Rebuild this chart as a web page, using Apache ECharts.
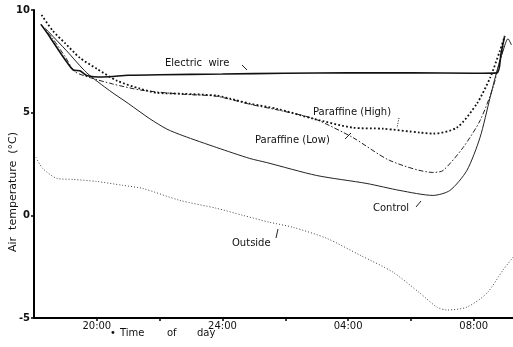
<!DOCTYPE html>
<html>
<head>
<meta charset="utf-8">
<script src="https://cdn.jsdelivr.net/npm/echarts@6/dist/echarts.min.js"></script>
<style>
html,body{margin:0;padding:0;background:#fff;}
#chart{width:513px;height:347px;}
</style>
</head>
<body>
<div id="chart"></div>
<script>
// x = hours on a continuous clock (24 = midnight, 32 = 08:00 next day)
var xTickLabels = {20: '20:00', 24: '24:00', 28: '04:00', 32: '08:00'};
var yTickLabels = {'-5': '-5', '0': '0', '5': '5', '10': '10'};

var electricWire = [
  [18.22, 9.3], [18.5, 8.7], [18.8, 8.0], [19.05, 7.45], [19.25, 7.08], [19.46, 7.04],
  [19.7, 6.8], [20.2, 6.74], [21.0, 6.82], [22.0, 6.85], [24.0, 6.88], [26.0, 6.92],
  [28.0, 6.94], [30.0, 6.94], [32.0, 6.92], [32.74, 6.94], [32.87, 7.9], [32.98, 8.7]
];
var paraffineHigh = [
  [18.24, 9.76], [18.6, 8.98], [18.98, 8.4], [19.46, 7.67], [20.0, 7.14], [20.65, 6.55],
  [21.37, 6.17], [21.91, 5.97], [22.74, 5.92], [23.82, 5.83], [24.24, 5.68], [24.87, 5.44],
  [25.73, 5.19], [26.88, 4.71], [28.15, 4.27], [29.1, 4.22], [30.29, 4.03], [30.7, 3.98],
  [31.46, 4.27], [32.1, 5.44], [32.52, 6.7], [32.83, 8.0], [32.99, 8.74]
];
var paraffineLow = [
  [18.22, 9.3], [18.6, 8.6], [19.0, 7.7], [19.3, 7.0], [19.8, 6.7], [20.5, 6.4],
  [21.4, 6.1], [22.7, 5.9], [23.8, 5.8], [24.9, 5.4], [25.7, 5.15], [26.5, 4.88],
  [27.0, 4.66], [28.15, 3.79], [29.33, 2.67], [30.7, 2.09], [31.02, 2.18], [31.66, 3.3],
  [32.2, 4.61], [32.61, 6.21], [32.83, 7.52], [32.99, 8.35]
];
var control = [
  [18.34, 9.13], [18.5, 8.88], [19.04, 8.01], [19.68, 6.94], [20.41, 6.07], [21.0, 5.45],
  [21.69, 4.7], [22.23, 4.2], [22.74, 3.88], [23.82, 3.3], [24.87, 2.77], [25.41, 2.57],
  [27.0, 1.94], [28.6, 1.55], [29.65, 1.21], [30.7, 0.97], [31.24, 1.21], [31.78, 2.18],
  [32.2, 3.79], [32.52, 5.73], [32.74, 7.04], [32.93, 8.0], [33.09, 8.6], [33.2, 8.3]
];
var outside = [
  [18.06, 2.82], [18.28, 2.28], [18.73, 1.8], [19.24, 1.75], [20.0, 1.65], [20.83, 1.46],
  [21.46, 1.31], [22.64, 0.73], [23.82, 0.34], [24.65, 0.0], [25.51, -0.34], [26.24, -0.58],
  [27.32, -1.12], [28.38, -1.94], [29.43, -2.77], [30.29, -3.79], [30.83, -4.47],
  [31.15, -4.61], [31.78, -4.47], [32.42, -3.79], [32.93, -2.67], [33.25, -2.04]
];

var seriesLabels = [
  {text: 'Electric  wire', x: 165, y: 63},
  {text: 'Paraffine (High)', x: 313, y: 112},
  {text: 'Paraffine (Low)', x: 255, y: 140},
  {text: 'Control', x: 373, y: 208},
  {text: 'Outside', x: 232, y: 243}
];
var xAxisTitleWords = [
  {text: '•', x: 110}, {text: 'Time', x: 120}, {text: 'of', x: 167}, {text: 'day', x: 197}
];

var FONT = 'DejaVu Sans';
var chart = echarts.init(document.getElementById('chart'), null, {renderer: 'canvas'});

function lineSeries(name, data, style) {
  return {
    name: name, type: 'line', data: data, symbol: 'none', smooth: 0.25,
    lineStyle: style, silent: true, animation: false, z: 3
  };
}

var graphics = seriesLabels.map(function (l) {
  return {
    type: 'text', x: l.x, y: l.y, z: 10,
    style: {text: l.text, fill: '#111', font: '10px "' + FONT + '"', verticalAlign: 'middle'}
  };
});
xAxisTitleWords.forEach(function (w) {
  graphics.push({
    type: 'text', x: w.x, y: 333, z: 10,
    style: {text: w.text, fill: '#111', font: '10px "' + FONT + '"', verticalAlign: 'middle'}
  });
});
graphics.push({
  type: 'text', x: 13, y: 192, rotation: Math.PI / 2, z: 10,
  style: {text: 'Air  temperature  (°C)', fill: '#111', font: '11px "' + FONT + '"',
          align: 'center', verticalAlign: 'middle'}
});
// small leader marks
var leaders = [
  [[242, 65], [247, 70]],
  [[399, 118], [397, 128]],
  [[345, 139], [351, 133]],
  [[416, 207], [421, 201]],
  [[276, 238], [278, 229]]
];
leaders.forEach(function (s, i) {
  graphics.push({
    type: 'line', z: 10,
    shape: {x1: s[0][0], y1: s[0][1], x2: s[1][0], y2: s[1][1]},
    style: {stroke: '#222', lineWidth: 1, lineDash: i === 1 ? [1, 1.5] : null}
  });
});

chart.setOption({
  backgroundColor: '#ffffff',
  animation: false,
  grid: {left: 34, right: 0, top: 10, bottom: 29, containLabel: false},
  xAxis: {
    type: 'value', min: 18, max: 33.25, interval: 2,
    axisLine: {show: true, onZero: false, lineStyle: {color: '#000', width: 2}},
    axisTick: {show: true, length: 3, lineStyle: {color: '#000', width: 1.5}},
    splitLine: {show: false},
    axisLabel: {
      margin: 3, color: '#111', fontSize: 10, fontFamily: FONT,
      showMinLabel: false, showMaxLabel: false,
      formatter: function (v) { return xTickLabels[v] || ''; }
    }
  },
  yAxis: {
    type: 'value', min: -5, max: 10, interval: 5,
    axisLine: {show: true, onZero: false, lineStyle: {color: '#000', width: 2}},
    axisTick: {show: true, length: 3, lineStyle: {color: '#000', width: 1.5}},
    splitLine: {show: false},
    axisLabel: {
      margin: 4, color: '#111', fontSize: 10, fontFamily: FONT, fontWeight: 'bold',
      formatter: function (v) { return yTickLabels[String(v)] || ''; }
    }
  },
  series: [
    lineSeries('Outside', outside, {color: '#444', width: 1, type: [1, 2]}),
    lineSeries('Control', control, {color: '#222', width: 1, type: 'solid'}),
    lineSeries('Paraffine (Low)', paraffineLow, {color: '#222', width: 1, type: [5, 2, 1.5, 2]}),
    lineSeries('Paraffine (High)', paraffineHigh, {color: '#111', width: 1.8, type: [1.8, 2.2]}),
    lineSeries('Electric wire', electricWire, {color: '#111', width: 1.6, type: 'solid'})
  ],
  graphic: graphics
});
</script>
</body>
</html>
